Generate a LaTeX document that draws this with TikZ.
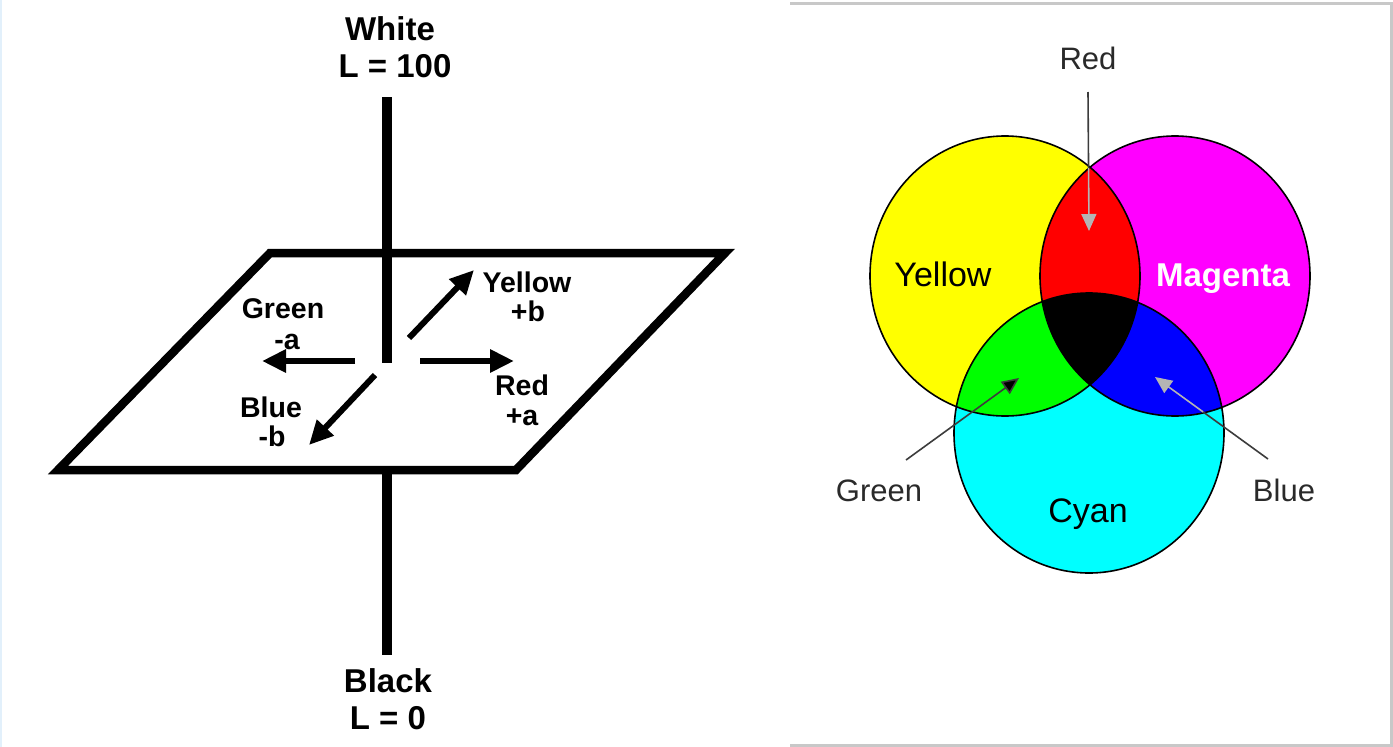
\documentclass[tikz,border=0pt]{standalone}
\usepackage{fontspec}
\setmainfont{Liberation Sans}
\usetikzlibrary{arrows.meta,calc}
\definecolor{frameg}{HTML}{C8C8C8}
\definecolor{edgeblue}{HTML}{E2F0FB}
\definecolor{labgray}{HTML}{2A2A2A}
\definecolor{ptrdark}{HTML}{3C3C3C}
\definecolor{ptrlight}{HTML}{B4B4B4}
\definecolor{vyel}{HTML}{FFFF00}
\definecolor{vmag}{HTML}{FF00FF}
\definecolor{vcya}{HTML}{00FFFF}
\definecolor{vred}{HTML}{FF0000}
\definecolor{vgre}{HTML}{00FF00}
\definecolor{vblu}{HTML}{0000FF}
\tikzset{
  lab/.style={font=\bfseries\fontsize{33}{36}\selectfont, anchor=base, inner sep=0pt},
  ilab/.style={font=\bfseries\fontsize{28.5}{30}\selectfont, anchor=base, inner sep=0pt},
  vlab/.style={font=\fontsize{34}{36}\selectfont, anchor=base, inner sep=0pt},
  vwlab/.style={font=\bfseries\fontsize{33}{36}\selectfont, anchor=base, inner sep=0pt, text=white},
  plab/.style={font=\fontsize{31}{33}\selectfont, anchor=base, inner sep=0pt, text=labgray},
  axisline/.style={line width=9.5pt},
  plane/.style={line width=8.5pt, line join=miter},
  darr/.style={line width=6pt, -{Triangle[length=24pt,width=22pt]}},
  venn/.style={draw=black, line width=1.6pt},
  ptr/.style={line width=1.6pt, draw=ptrdark},
  ptrin/.style={line width=1.6pt, draw=ptrlight},
}
\begin{document}
\begin{tikzpicture}[x=1pt,y=-1pt]
\useasboundingbox (0,0) rectangle (1393,747);
\fill[white] (0,0) rectangle (1393,747);
% frame of the right panel and faint left edge
\draw[frameg, line width=3pt] (790,3.5) -- (1391.5,3.5) -- (1391.5,745.5) -- (790,745.5);
\draw[edgeblue, line width=2pt] (1,0) -- (1,747);

% ---------------- Left panel: Lab ----------------
\coordinate (p1) at (270,253);
\coordinate (p2) at (725,253);
\coordinate (p3) at (516,470);
\coordinate (p4) at (58,470);
\draw[plane] (p1) -- (p2) -- (p3) -- (p4) -- cycle;

\coordinate (axtop) at (387,97);
\coordinate (axmid) at (387,363);
\coordinate (axlow) at (387,470);
\coordinate (axbot) at (387,655);
\draw[axisline] (axtop) -- (axmid);
\draw[axisline] (axlow) -- (axbot);

\coordinate (gs) at (355,361);  \coordinate (ge) at (262,361);
\coordinate (rs) at (420,361);  \coordinate (re) at (514,361);
\coordinate (ys) at (409,338);  \coordinate (ye) at (474,270);
\coordinate (bs) at (375,375);  \coordinate (be) at (309,445);
\draw[darr] (gs) -- (ge);
\draw[darr] (rs) -- (re);
\draw[darr] (ys) -- (ye);
\draw[darr] (bs) -- (be);

\node[lab] (white1) at (390,40) {White};
\node[lab] (white2) at (395,77) {L = 100};
\node[lab] (black1) at (388,692) {Black};
\node[lab] (black2) at (388,729) {L = 0};

\node[ilab] (green1) at (283,318) {Green};
\node[ilab] (green2) at (287,349) {-a};
\node[ilab] (yellow1) at (527,292) {Yellow};
\node[ilab] (yellow2) at (528,321) {+b};
\node[ilab] (red1) at (522,395) {Red};
\node[ilab] (red2) at (522,425) {+a};
\node[ilab] (blue1) at (271,417) {Blue};
\node[ilab] (blue2) at (272,446) {-b};

% ---------------- Right panel: CMY Venn ----------------
\coordinate (yc) at (1005,276);
\coordinate (mc) at (1175,276);
\coordinate (cc) at (1089,433);
\fill[vyel] (yc) ellipse [x radius=135pt, y radius=140pt];
\fill[vmag] (mc) ellipse [x radius=135pt, y radius=140pt];
\fill[vcya] (cc) ellipse [x radius=135pt, y radius=140pt];
\begin{scope}
  \clip (yc) ellipse [x radius=135pt, y radius=140pt];
  \fill[vred] (mc) ellipse [x radius=135pt, y radius=140pt];
  \fill[vgre] (cc) ellipse [x radius=135pt, y radius=140pt];
  \clip (mc) ellipse [x radius=135pt, y radius=140pt];
  \fill[black] (cc) ellipse [x radius=135pt, y radius=140pt];
\end{scope}
\begin{scope}
  \clip (mc) ellipse [x radius=135pt, y radius=140pt];
  \clip (cc) ellipse [x radius=135pt, y radius=140pt];
  \fill[vblu] (mc) ellipse [x radius=135pt, y radius=140pt];
  \clip (yc) ellipse [x radius=135pt, y radius=140pt];
  \fill[black] (cc) ellipse [x radius=135pt, y radius=140pt];
\end{scope}
\draw[venn] (yc) ellipse [x radius=135pt, y radius=140pt];
\draw[venn] (mc) ellipse [x radius=135pt, y radius=140pt];
\draw[venn] (cc) ellipse [x radius=135pt, y radius=140pt];

\node[vlab] (vyellow) at (943,286) {Yellow};
\node[vwlab] (vmagenta) at (1223,286) {Magenta};
\node[vlab] (vcyan) at (1088,522) {Cyan};

\node[plab] (pred) at (1088,69) {Red};
\node[plab] (pgreen) at (879,501) {Green};
\node[plab] (pblue) at (1284,501) {Blue};

% pointers
\coordinate (rS) at (1088,92);
\coordinate (rT) at (1089,231);
\coordinate (rM) at ($(rS)!0.547!(rT)$);
\draw[ptr] (rS) -- (rM);
\draw[ptrin, -{Triangle[length=17pt,width=15pt,fill=ptrlight]}] (rM) -- (rT);

\coordinate (gS) at (906,460);
\coordinate (gT) at (1019,378);
\draw[ptr, -{Triangle[length=17pt,width=15pt,fill=black]}] (gS) -- (gT);

\coordinate (bS) at (1268,459);
\coordinate (bT) at (1155,377);
\coordinate (bM) at ($(bS)!0.575!(bT)$);
\draw[ptr] (bS) -- (bM);
\draw[ptrin, -{Triangle[length=17pt,width=15pt,fill=ptrlight]}] (bM) -- (bT);
\end{tikzpicture}
\end{document}
